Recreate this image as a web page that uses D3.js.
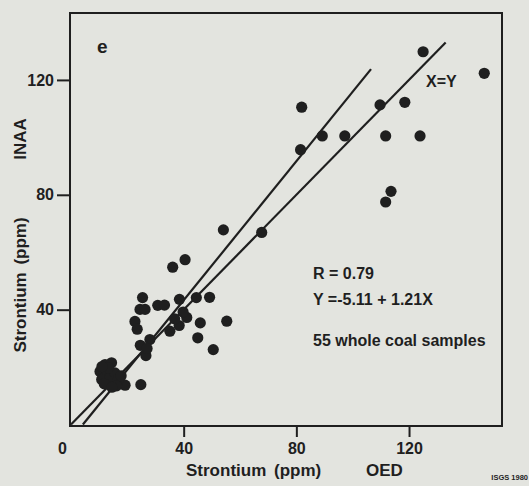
<!DOCTYPE html>
<html>
<head>
<meta charset="utf-8">
<script src="https://cdn.jsdelivr.net/npm/d3@7"></script>
<style>
  body { margin: 0; background: #e3e4df; }
  svg { display: block; font-family: "Liberation Sans", Arial, sans-serif; font-weight: bold; }
</style>
</head>
<body>
<div id="chart"></div>
<script>
// Strontium, OED (x) vs INAA (y), ppm
var oed = [125.0, 146.7, 81.9, 109.7, 118.5, 81.5, 89.2, 97.2, 111.7, 123.9,
           113.6, 111.7, 54.1, 67.7, 40.5, 36.1, 25.4, 30.8, 33.2, 38.5,
           44.5, 49.2, 24.5, 26.3, 22.7, 23.5, 41.1, 38.4, 35.1, 45.9,
           55.3, 45.0, 50.5, 28.0, 24.6, 26.6, 19.2, 24.8, 12.1, 14.4,
           10.3, 12.7, 10.9, 13.8, 15.6, 16.8, 16.2, 11.8, 14.5, 13.2,
           11.0, 39.8, 36.8, 27.0, 17.8];
var inaa = [129.8, 122.3, 110.5, 111.3, 112.2, 95.7, 100.5, 100.5, 100.5, 100.5,
            81.2, 77.5, 67.8, 66.9, 57.4, 54.8, 44.2, 41.5, 41.6, 43.6,
            44.2, 44.3, 40.1, 40.1, 35.9, 33.2, 37.3, 34.5, 32.5, 35.4,
            36.0, 30.2, 26.1, 29.6, 27.6, 24.0, 13.7, 13.9, 20.9, 21.5,
            18.5, 18.0, 15.7, 16.2, 18.0, 15.7, 13.5, 14.2, 13.0, 19.8,
            20.2, 39.2, 36.8, 26.5, 17.0];

var xTicks = [0, 40, 80, 120];
var yTicks = [40, 80, 120];

// regression Y = a + bX, and the X=Y reference line
var regA = -5.11, regB = 1.21, regXEnd = 106.5;
var idEnd = 133;

var statLines = ['R = 0.79', 'Y =-5.11 + 1.21X'];
var sampleNote = '55 whole coal samples';

var outerWidth = 529, outerHeight = 486;
var frame = {left: 70, right: 502, top: 13, bottom: 426};
var ink = '#1f1f1f';

var svg = d3.select('#chart').append('svg')
  .attr('width', outerWidth)
  .attr('height', outerHeight);

svg.append('rect')
  .attr('width', outerWidth).attr('height', outerHeight)
  .attr('fill', '#e3e4df');

var x = d3.scaleLinear().domain([-0.35, 153]).range([frame.left, frame.right]);
var y = d3.scaleLinear().domain([-0.5, 143.3]).range([frame.bottom, frame.top]);

svg.append('clipPath').attr('id', 'plotclip')
  .append('rect')
  .attr('x', frame.left).attr('y', frame.top)
  .attr('width', frame.right - frame.left)
  .attr('height', frame.bottom - frame.top);

var plot = svg.append('g').attr('clip-path', 'url(#plotclip)');

// lines
var line = d3.line().x(d => x(d[0])).y(d => y(d[1]));
plot.append('path')
  .datum([[0, 0], [idEnd, idEnd]])
  .attr('d', line)
  .attr('fill', 'none').attr('stroke', ink).attr('stroke-width', 2.2);
plot.append('path')
  .datum([[-regA / regB, 0], [regXEnd, regA + regB * regXEnd]])
  .attr('d', line)
  .attr('fill', 'none').attr('stroke', ink).attr('stroke-width', 2.2);

// points
plot.selectAll('circle')
  .data(oed.map((v, i) => [v, inaa[i]]))
  .enter().append('circle')
  .attr('cx', d => x(d[0]))
  .attr('cy', d => y(d[1]))
  .attr('r', 5.6)
  .attr('fill', ink);

// frame
svg.append('rect')
  .attr('x', frame.left).attr('y', frame.top)
  .attr('width', frame.right - frame.left)
  .attr('height', frame.bottom - frame.top)
  .attr('fill', 'none').attr('stroke', ink).attr('stroke-width', 2);

// x axis
var xAxis = svg.append('g')
  .attr('transform', 'translate(0,' + frame.bottom + ')')
  .call(d3.axisBottom(x).tickValues(xTicks).tickSize(11).tickPadding(6).tickFormat(d3.format('d')));
xAxis.select('.domain').remove();
xAxis.selectAll('line').attr('stroke', ink).attr('stroke-width', 2);
xAxis.selectAll('text').attr('fill', ink).style('font-size', '16px').style('font-weight', 'bold');
xAxis.selectAll('.tick').filter(d => d === 0).select('line').remove();
xAxis.selectAll('.tick').filter(d => d === 0).select('text').attr('dx', -9);

// y axis
var yAxis = svg.append('g')
  .attr('transform', 'translate(' + frame.left + ',0)')
  .call(d3.axisLeft(y).tickValues(yTicks).tickSize(13).tickPadding(3).tickFormat(d3.format('d')));
yAxis.select('.domain').remove();
yAxis.selectAll('line').attr('stroke', ink).attr('stroke-width', 2);
yAxis.selectAll('text').attr('fill', ink).style('font-size', '16px').style('font-weight', 'bold');

// axis titles
svg.append('text')
  .attr('x', 186).attr('y', 476)
  .attr('fill', ink).style('font-size', '17px')
  .attr('word-spacing', 3)
  .text('Strontium (ppm)');
svg.append('text')
  .attr('x', 366).attr('y', 476)
  .attr('fill', ink).style('font-size', '17px')
  .text('OED');
svg.append('text')
  .attr('transform', 'translate(26,285) rotate(-90)')
  .attr('text-anchor', 'middle')
  .attr('fill', ink).style('font-size', '17px')
  .attr('word-spacing', 3)
  .text('Strontium (ppm)');
svg.append('text')
  .attr('transform', 'translate(26,139) rotate(-90)')
  .attr('text-anchor', 'middle')
  .attr('fill', ink).style('font-size', '17px')
  .text('INAA');

// annotations
svg.append('text')
  .attr('x', 97).attr('y', 53)
  .attr('fill', ink).style('font-size', '19px')
  .text('e');
svg.append('text')
  .attr('x', 426).attr('y', 87)
  .attr('fill', ink).style('font-size', '16px')
  .text('X=Y');
svg.selectAll('.stat')
  .data(statLines)
  .enter().append('text')
  .attr('class', 'stat')
  .attr('x', 313)
  .attr('y', (d, i) => 279 + i * 26)
  .attr('fill', ink).style('font-size', '16px')
  .text(d => d);
svg.append('text')
  .attr('x', 313).attr('y', 346)
  .attr('fill', ink).style('font-size', '16px')
  .text(sampleNote);
svg.append('text')
  .attr('x', 528).attr('y', 480)
  .attr('text-anchor', 'end')
  .attr('fill', ink).style('font-size', '7.5px')
  .text('ISGS 1980');
</script>
</body>
</html>
